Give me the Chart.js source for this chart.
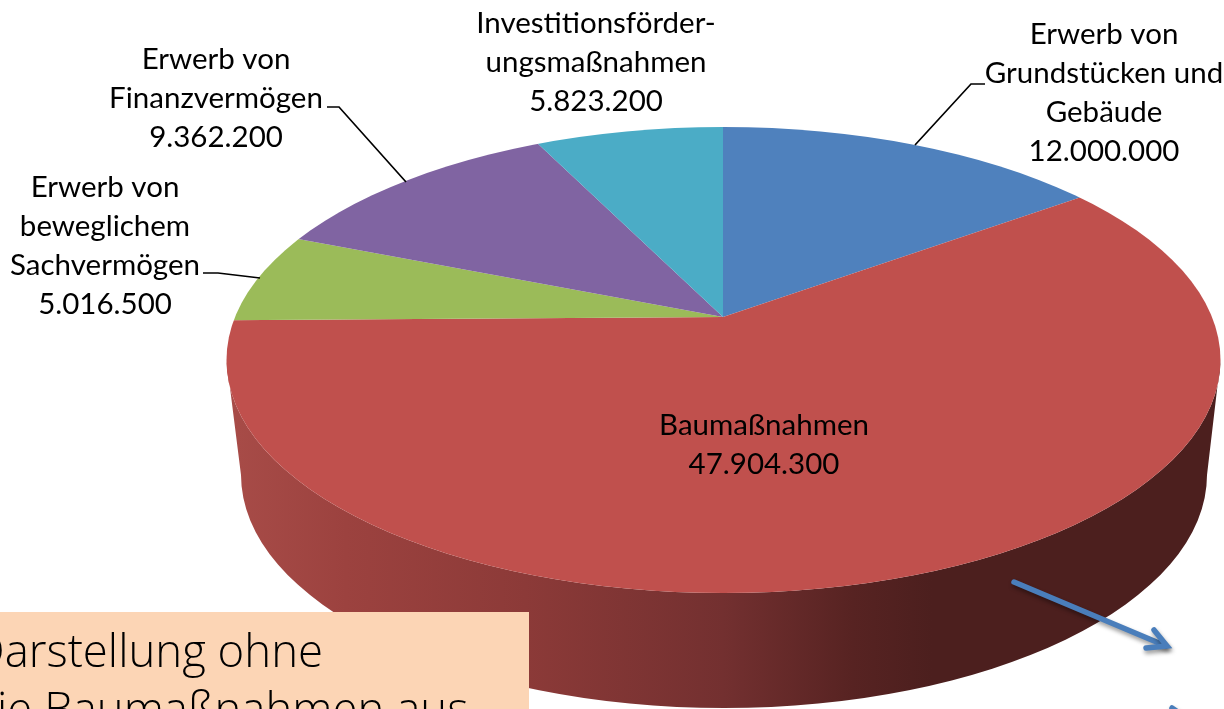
<!DOCTYPE html>
<html><head><meta charset="utf-8">
<style>html,body{margin:0;padding:0;background:#fff;overflow:hidden}#w{position:relative;width:1224px;height:709px}</style>
<script src="https://cdn.jsdelivr.net/npm/chart.js@4"></script>
</head><body><div id="w"><canvas id="c" width="1224" height="709"></canvas></div>
<script>
const categories = ["Erwerb von Grundstücken und Gebäude","Baumaßnahmen","Erwerb von beweglichem Sachvermögen","Erwerb von Finanzvermögen","Investitionsförderungsmaßnahmen"];
const values = [12000000,47904300,5016500,9362200,5823200];
const colors = ["#4f81bd","#c0504d","#9bbb59","#8064a2","#4bacc6"];
const labelLines = [
  ["Erwerb von","Grundstücken und","Gebäude","12.000.000"],
  ["Baumaßnahmen","47.904.300"],
  ["Erwerb von","beweglichem","Sachvermögen","5.016.500"],
  ["Erwerb von","Finanzvermögen","9.362.200"],
  ["Investitionsförder-","ungsmaßnahmen","5.823.200"]
];
const labelAnchors = [[1104,44],[764,435],[105,197],[216,69],[596,33]];
const leaders = [
  [[985,84],[971,84],[915,145]],
  null,
  [[203,273],[218,273],[260,278]],
  [[327,107],[339,107],[406,182]],
  null
];
const noteLines = ["Darstellung ohne","die Baumaßnahmen aus"];

const SQUASH = 0.46;
const TOP = {x:723.5,y:360,rx:497,ry:233};
const BASE = {x:724,y:475,rx:483,ry:233};
const FONT = '29.5px Lato';

const pie3d = {
  id:'pie3d',
  beforeDatasetsDraw(chart){
    const ctx = chart.ctx;
    const meta = chart.getDatasetMeta(0).data[0];
    ctx.save();
    const g = ctx.createLinearGradient(TOP.x-TOP.rx,0,TOP.x+TOP.rx,0);
    g.addColorStop(0,'#a84c48');
    g.addColorStop(0.12,'#9c423f');
    g.addColorStop(0.3,'#8c3a38');
    g.addColorStop(0.5,'#733030');
    g.addColorStop(0.63,'#572322');
    g.addColorStop(0.71,'#4c1f1e');
    g.addColorStop(1,'#4c1f1e');
    ctx.fillStyle = g;
    ctx.beginPath();
    ctx.ellipse(TOP.x,TOP.y,TOP.rx,TOP.ry,0,Math.PI,0,true);
    ctx.lineTo(BASE.x+BASE.rx,BASE.y);
    ctx.ellipse(BASE.x,BASE.y,BASE.rx,BASE.ry,0,0,Math.PI,false);
    ctx.closePath();
    ctx.fill();
    ctx.restore();
    ctx.save();
    ctx.beginPath();
    ctx.ellipse(TOP.x,TOP.y,TOP.rx,TOP.ry,0,0,Math.PI*2);
    ctx.clip();
    ctx.translate(meta.x,meta.y);
    ctx.scale(1,SQUASH);
    ctx.translate(-meta.x,-meta.y);
  },
  afterDatasetsDraw(chart){
    chart.ctx.restore();
    const ctx = chart.ctx;
    ctx.save();
    ctx.strokeStyle='#000';ctx.lineWidth=1.7;
    leaders.forEach(l=>{ if(!l) return; ctx.beginPath(); l.forEach((p,i)=>i?ctx.lineTo(p[0],p[1]):ctx.moveTo(p[0],p[1])); ctx.stroke(); });
    ctx.fillStyle='#000';ctx.font=FONT;ctx.textAlign='center';ctx.textBaseline='alphabetic';
    labelLines.forEach((ls,i)=>ls.forEach((t,j)=>ctx.fillText(t,labelAnchors[i][0],labelAnchors[i][1]+j*39)));
    const arrow=(pts)=>{ctx.save();ctx.strokeStyle='#4a7ebb';ctx.lineWidth=5.5;ctx.lineCap='round';ctx.lineJoin='miter';
      ctx.shadowColor='rgba(0,0,0,0.4)';ctx.shadowBlur=4;ctx.shadowOffsetX=1;ctx.shadowOffsetY=3;
      pts.forEach(s=>{ctx.beginPath();s.forEach((p,i)=>i?ctx.lineTo(p[0],p[1]):ctx.moveTo(p[0],p[1]));ctx.stroke();});ctx.restore();};
    arrow([[[1014,582],[1166,646]],[[1154,630],[1167,646],[1146,648]]]);
    arrow([[[1172,708],[1192,722]]]);
    ctx.fillStyle='#fcd5b5';ctx.fillRect(0,612,529,97);
    ctx.fillStyle='#000';ctx.font='300 45.5px "Open Sans"';
    ctx.textAlign='right';ctx.fillText(noteLines[0],323,667);
    ctx.textAlign='left';ctx.fillText(noteLines[1],-30,725);
    ctx.restore();
  }
};

new Chart(document.getElementById('c'),{
  type:'pie',
  data:{labels:categories,datasets:[{data:values,backgroundColor:colors,borderWidth:0,clip:false,hoverOffset:0}]},
  options:{
    responsive:false,animation:false,radius:720,rotation:0,
    layout:{padding:{left:222,bottom:75,top:0,right:0}},
    plugins:{legend:{display:false},tooltip:{enabled:false}},
    events:[]
  },
  plugins:[pie3d]
});
</script></body></html>
